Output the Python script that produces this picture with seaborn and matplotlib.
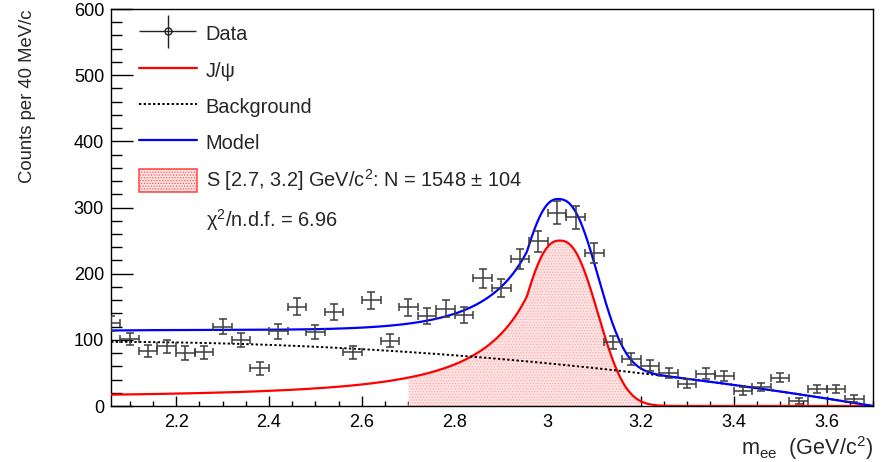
import numpy as np
import pandas as pd
import matplotlib
matplotlib.use("Agg")
import matplotlib.pyplot as plt
import seaborn as sns
from matplotlib.patches import Patch
from matplotlib.lines import Line2D
from matplotlib.ticker import MultipleLocator, FuncFormatter
from matplotlib.legend_handler import HandlerErrorbar

# ---------------- data ----------------
bin_centers = [2.06, 2.10, 2.14, 2.18, 2.22, 2.26, 2.30, 2.34, 2.38, 2.42,
               2.46, 2.50, 2.54, 2.58, 2.62, 2.66, 2.70, 2.74, 2.78, 2.82,
               2.86, 2.90, 2.94, 2.98, 3.02, 3.06, 3.10, 3.14, 3.18, 3.22,
               3.26, 3.30, 3.34, 3.38, 3.42, 3.46, 3.50, 3.54, 3.58, 3.62,
               3.66]
counts = [125, 101, 83, 90, 80, 81, 120, 100, 57, 113,
          150, 112, 142, 81, 160, 99, 149, 136, 147, 138,
          193, 178, 222, 249, 292, 285, 231, 96, 71, 61,
          50, 34, 49, 46, 22, 29, 43, 8, 25, 25,
          11]
count_errors = [11, 9, 9.5, 10, 10, 10, 11.5, 10.5, 10, 11.5,
                12.5, 11, 12, 10, 13, 10, 12.5, 12, 12.5, 12,
                14, 13.5, 15, 16, 17.5, 17, 15.5, 10, 9, 8.5,
                8, 7, 8, 7.5, 6, 6, 7, 4.5, 6, 6,
                5]
bin_half_width = 0.02

# model parameters (fitted curves as drawn)
sig_amp, sig_mean, sig_width, sig_power = 250.0, 3.026, 0.077, 2.4
tail_start, tail_const, tail_scale, tail_power = 2.955, 0.05, 0.25, 2.3
bkg_coeffs = [97.0, -1.57, -35.1]   # polynomial in (m - 2.06)
bkg_origin = 2.06
signal_window = [2.7, 3.2]

legend_labels = ["Data", "J/\u03c8", "Background", "Model",
                 "S [2.7, 3.2] GeV/c$^{\\mathregular{2}}$: N = 1548 \u00b1 104",
                 "\u03c7$^{\\mathregular{2}}$/n.d.f. = 6.96"]
x_range = [2.06, 3.70]
y_range = [0, 600]


def signal(m):
    core = np.exp(-0.5 * np.abs((m - sig_mean) / sig_width) ** sig_power)
    core_at_t = np.exp(-0.5 * np.abs((tail_start - sig_mean) / sig_width) ** sig_power)
    u = np.clip(tail_start - m, 0, None)
    tail = tail_const + (core_at_t - tail_const) * (1 + u / tail_scale) ** (-tail_power)
    return sig_amp * np.where(m >= tail_start, core, tail)


def background(m):
    u = m - bkg_origin
    return bkg_coeffs[0] + bkg_coeffs[1] * u + bkg_coeffs[2] * u ** 2


# ---------------- style ----------------
sns.set_theme(style="ticks")
plt.rcParams["font.family"] = ["Liberation Sans", "DejaVu Sans"]
plt.rcParams["mathtext.fontset"] = "custom"
plt.rcParams["mathtext.rm"] = "Liberation Sans"
plt.rcParams["mathtext.it"] = "Liberation Sans:italic"
plt.rcParams["hatch.linewidth"] = 0.6

fig, ax = plt.subplots(figsize=(8.89, 4.62), dpi=100)
fig.subplots_adjust(left=0.1249, right=0.982, top=0.9805, bottom=0.1212)

m = np.linspace(x_range[0], x_range[1], 800)
curves = pd.DataFrame({"m": m, "sig": signal(m), "bkg": background(m)})
curves["model"] = curves["sig"] + curves["bkg"]

win = curves[(curves["m"] >= signal_window[0]) & (curves["m"] <= signal_window[1])]
ax.fill_between(win["m"], 0, win["sig"], facecolor="#ffe6e6", edgecolor="#ffa4a4",
                hatch="......", linewidth=0, zorder=1)

sns.lineplot(data=curves, x="m", y="sig", color="#ff0000", linewidth=1.6, ax=ax, zorder=3)
sns.lineplot(data=curves, x="m", y="bkg", color="black", linewidth=1.4,
             linestyle=(0, (1.2, 1.2)), ax=ax, zorder=3)
sns.lineplot(data=curves, x="m", y="model", color="#0000ff", linewidth=1.6, ax=ax, zorder=4)

ax.errorbar(bin_centers, counts, xerr=bin_half_width, yerr=count_errors, fmt="none",
            ecolor="#3c3c3c", elinewidth=1.1, capsize=3, capthick=1.1, zorder=5)

# legend proxies
data_proxy = ax.errorbar([np.nan], [np.nan], xerr=[1], yerr=[1], fmt="o", mfc="none",
                         mec="#222222", ms=5, mew=1, ecolor="#222222", elinewidth=1)
handles = [data_proxy,
           Line2D([], [], color="#ff0000", lw=1.6),
           Line2D([], [], color="black", lw=1.4, linestyle=(0, (1.2, 1.2))),
           Line2D([], [], color="#0000ff", lw=1.6),
           Patch(facecolor="#ffe6e6", edgecolor="#ff5050", hatch="......", linewidth=1.2),
           Patch(facecolor="none", edgecolor="none")]
ax.legend(handles, legend_labels, loc="upper left", bbox_to_anchor=(0.0367, 0.966),
          frameon=False, fontsize=14.4, borderpad=0, borderaxespad=0,
          handlelength=2.88, handleheight=1.35, handletextpad=0.46, labelspacing=0.69,
          handler_map={type(data_proxy): HandlerErrorbar(xerr_size=1.42, yerr_size=0.82)})

ax.set_xlim(*x_range)
ax.set_ylim(*y_range)
ax.xaxis.set_major_locator(MultipleLocator(0.2))
ax.xaxis.set_minor_locator(MultipleLocator(0.05))
ax.yaxis.set_major_locator(MultipleLocator(100))
ax.yaxis.set_minor_locator(MultipleLocator(20))
ax.xaxis.set_major_formatter(FuncFormatter(lambda v, p: f"{v:g}"))
ax.tick_params(axis="both", which="both", direction="in", top=False, right=False,
               colors="black")
ax.tick_params(axis="y", which="major", length=15.8, width=1, labelsize=13, pad=5)
ax.tick_params(axis="y", which="minor", length=8, width=1)
ax.tick_params(axis="x", which="major", length=7.2, width=1, labelsize=13, pad=6)
ax.tick_params(axis="x", which="minor", length=3.6, width=1)
for s in ax.spines.values():
    s.set_color("black")
    s.set_linewidth(1)

ax.set_ylabel("Counts per 40 MeV/c", fontsize=13.3, loc="top")
ax.yaxis.set_label_coords(-0.098, 1.0)
ax.set_xlabel("$\\mathregular{m_{ee}}$  (GeV/c$^{\\mathregular{2}}$)", fontsize=15.6, loc="right")
ax.xaxis.set_label_coords(1.0, -0.07)

fig.savefig("out.png", dpi=100)
